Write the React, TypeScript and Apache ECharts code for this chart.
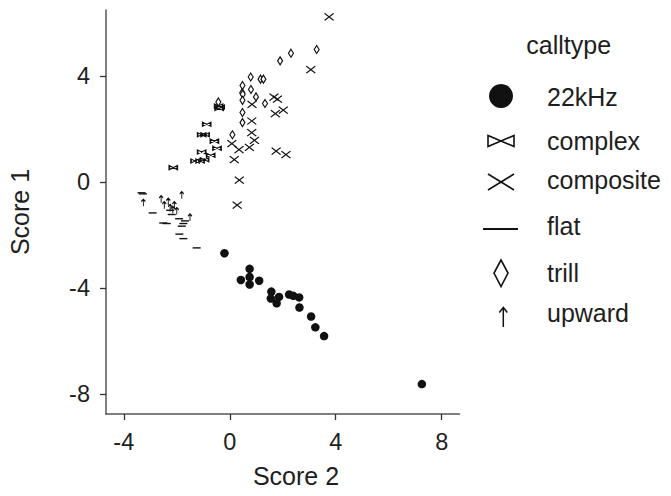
import React, { useEffect, useRef } from 'react';
import * as echarts from 'echarts';

const xTicks = [-4, 0, 4, 8];
const yTicks = [-8, -4, 0, 4];
const categories = ['22kHz', 'complex', 'composite', 'flat', 'trill', 'upward'];

const khz22: number[][] = [
  [-0.2, -2.68], [0.75, -3.27], [0.42, -3.69], [0.75, -3.58], [0.75, -3.86], [1.11, -3.72],
  [1.57, -4.13], [1.55, -4.39], [1.86, -4.33], [1.77, -4.57], [2.24, -4.24], [2.4, -4.29],
  [2.62, -4.35], [2.63, -4.73], [3.07, -5.07], [3.23, -5.48], [3.56, -5.81], [7.25, -7.62],
];
const complex: number[][] = [
  [-0.87, 2.19], [-1.06, 1.79], [-0.93, 1.79], [-0.58, 1.55], [-0.48, 1.28], [-1.06, 1.14],
  [-0.72, 1.02], [-1.31, 0.8], [-1.12, 0.8], [-0.95, 0.85], [-0.42, 2.88], [-0.36, 2.84],
  [-0.4, 2.78], [-2.13, 0.55],
];
const composite: number[][] = [
  [3.75, 6.24], [3.06, 4.25], [1.67, 3.21], [1.8, 3.14], [0.84, 2.94], [1.72, 2.59],
  [2.02, 2.72], [0.83, 2.31], [0.83, 1.87], [0.93, 1.58], [0.08, 1.46], [0.35, 1.23],
  [0.74, 1.31], [0.17, 0.85], [1.75, 1.17], [2.12, 1.04], [0.36, 0.08], [0.28, -0.87],
];
const flat: number[][] = [
  [-3.33, -0.4], [-3.28, -0.44], [-2.91, -1.16], [-2.51, -1.54], [-2.38, -1.56], [-2.19, -1.22],
  [-2.25, -1.06], [-1.91, -1.38], [-1.69, -1.46], [-1.75, -1.56], [-1.81, -1.66], [-1.9, -1.96],
  [-1.75, -2.13], [-1.25, -2.48],
];
const trill: number[][] = [
  [3.28, 5.01], [2.31, 4.87], [1.9, 4.58], [0.79, 3.97], [1.16, 3.89], [1.27, 3.89],
  [0.48, 3.65], [0.47, 3.38], [0.49, 3.32], [0.8, 3.5], [0.48, 3.09], [0.99, 3.22],
  [1.33, 2.97], [0.48, 2.63], [0.48, 2.25], [0.1, 1.79], [-0.43, 3.03],
];
const upward: number[][] = [
  [-3.26, -0.78], [-2.59, -0.64], [-2.47, -0.87], [-2.32, -0.74], [-2.25, -0.97], [-2.09, -0.87],
  [-1.81, -0.49], [-2.0, -1.09], [-1.5, -1.33], [-2.15, -1.05],
];

const FONT = 'Liberation Sans, Arial, sans-serif';
const INK = '#1e1e1e';

const BOWTIE = 'path://M0,0L0,10L20,0L20,10Z';
const CROSS = 'path://M0,0L20,16M0,16L20,0';
const FLATSYM = 'path://M0,0L20,0L20,3L0,3Z';
const ARROW = 'path://M5,0L5,16M1,5L5,0L9,5';

const strokeStyle = { color: 'rgba(0,0,0,0)', borderColor: '#111', borderWidth: 1.2, opacity: 1 };

export default function App() {
  const ref = useRef<HTMLDivElement>(null);
  useEffect(() => {
    if (!ref.current) return;
    const chart = echarts.init(ref.current, null, { renderer: 'svg' });
    const legendX = 547;
    const rowY = [97, 140.5, 179.5, 226, 273, 313];
    const labelStyle = { fontSize: 25, fontFamily: FONT, fill: INK, verticalAlign: 'middle', align: 'left' };
    const legendTexts = categories.map((c, i) => ({
      type: 'text', x: legendX, y: rowY[i], style: { ...labelStyle, text: c },
    }));
    const option: any = {
      animation: false,
      backgroundColor: '#fff',
      grid: { left: 106, top: 10, width: 353.5, height: 404, containLabel: false },
      xAxis: {
        type: 'value', min: -4.67, max: 8.67,
        axisLine: { show: true, onZero: false, lineStyle: { color: '#555', width: 1.5 } },
        axisTick: { show: true, inside: false, length: 6, customValues: xTicks, lineStyle: { color: '#333', width: 1.3 } },
        axisLabel: { customValues: xTicks, margin: 16, fontSize: 23.5, fontFamily: FONT, color: INK },
        splitLine: { show: false },
      },
      yAxis: {
        type: 'value', min: -8.75, max: 6.5,
        axisLine: { show: true, onZero: false, lineStyle: { color: '#555', width: 1.5 } },
        axisTick: { show: true, inside: false, length: 6, customValues: yTicks, lineStyle: { color: '#333', width: 1.3 } },
        axisLabel: { customValues: yTicks, margin: 16, fontSize: 23.5, fontFamily: FONT, color: INK },
        splitLine: { show: false },
      },
      series: [
        { name: '22kHz', type: 'scatter', data: khz22, symbol: 'circle', symbolSize: 8.5, itemStyle: { color: '#111', opacity: 1 } },
        { name: 'complex', type: 'scatter', data: complex, symbol: BOWTIE, symbolSize: [8, 4], symbolKeepAspect: false, itemStyle: strokeStyle },
        { name: 'composite', type: 'scatter', data: composite, symbol: CROSS, symbolSize: [9, 7], itemStyle: strokeStyle },
        { name: 'flat', type: 'scatter', data: flat, symbol: FLATSYM, symbolSize: [8, 1.4], itemStyle: { color: '#111', opacity: 1 } },
        { name: 'trill', type: 'scatter', data: trill, symbol: 'diamond', symbolSize: [5, 8], itemStyle: { color: '#fff', borderColor: '#111', borderWidth: 1.2, opacity: 1 } },
        { name: 'upward', type: 'scatter', data: upward, symbol: ARROW, symbolSize: [4, 7], itemStyle: strokeStyle },
      ],
      graphic: [
        { type: 'text', x: 296, y: 476, style: { text: 'Score 2', fontSize: 25, fontFamily: FONT, fill: INK, align: 'center', verticalAlign: 'middle' } },
        { type: 'text', x: 19.5, y: 212, rotation: Math.PI / 2, style: { text: 'Score 1', fontSize: 25, fontFamily: FONT, fill: INK, align: 'center', verticalAlign: 'middle' } },
        { type: 'text', x: 568.7, y: 44.6, style: { text: 'calltype', fontSize: 25, fontFamily: FONT, fill: INK, align: 'center', verticalAlign: 'middle' } },
        ...legendTexts,
        { type: 'circle', shape: { cx: 501, cy: 96, r: 12 }, style: { fill: '#111' } },
        { type: 'polygon', shape: { points: [[488, 135.5], [488, 146.5], [514, 135.5], [514, 146.5]] }, style: { fill: 'none', stroke: '#111', lineWidth: 1.6 } },
        { type: 'line', shape: { x1: 488, y1: 174, x2: 514, y2: 190 }, style: { stroke: '#111', lineWidth: 1.6 } },
        { type: 'line', shape: { x1: 488, y1: 190, x2: 514, y2: 174 }, style: { stroke: '#111', lineWidth: 1.6 } },
        { type: 'line', shape: { x1: 483, y1: 229, x2: 518, y2: 229 }, style: { stroke: '#111', lineWidth: 1.8 } },
        { type: 'polygon', shape: { points: [[501, 260], [508, 273], [501, 286.5], [494, 273]] }, style: { fill: 'none', stroke: '#111', lineWidth: 1.6 } },
        { type: 'line', shape: { x1: 503.3, y1: 308, x2: 503.3, y2: 327 }, style: { stroke: '#111', lineWidth: 1.5 } },
        { type: 'polyline', shape: { points: [[499.3, 312.5], [503.3, 307.5], [507.3, 312.5]] }, style: { fill: 'none', stroke: '#111', lineWidth: 1.5 } },
      ],
    };
    chart.setOption(option);
    return () => chart.dispose();
  }, []);
  return <div ref={ref} style={{ position: 'fixed', left: 0, top: 0, width: 671, height: 496, background: '#fff' }} />;
}
